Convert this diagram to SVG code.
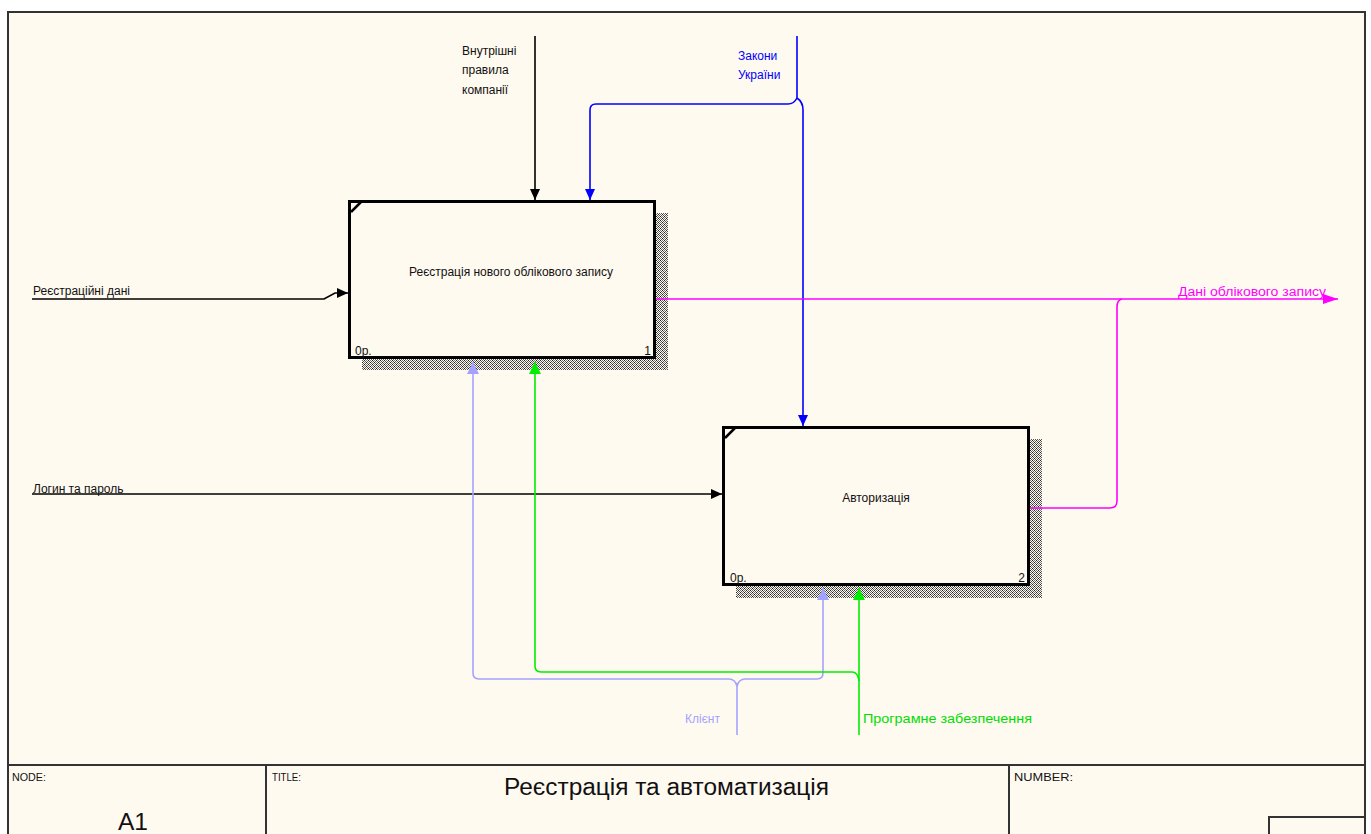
<svg xmlns="http://www.w3.org/2000/svg" width="1371" height="834" viewBox="0 0 1371 834">
  <defs>
    <pattern id="hatch" width="4" height="4" patternUnits="userSpaceOnUse">
      <rect width="4" height="4" fill="#fffaf0"/>
      <rect x="0" y="0" width="1" height="1" fill="#222"/>
      <rect x="2" y="0" width="1" height="1" fill="#777"/>
      <rect x="1" y="1" width="1" height="1" fill="#555"/>
      <rect x="3" y="1" width="1" height="1" fill="#555"/>
      <rect x="2" y="2" width="1" height="1" fill="#222"/>
      <rect x="0" y="2" width="1" height="1" fill="#777"/>
      <rect x="1" y="3" width="1" height="1" fill="#555"/>
      <rect x="3" y="3" width="1" height="1" fill="#555"/>
    </pattern>
    <marker id="ahBlack" markerUnits="userSpaceOnUse" markerWidth="12" markerHeight="10" refX="11" refY="5" orient="auto">
      <path d="M0,0 L11,5 L0,10 Z" fill="#000"/>
    </marker>
    <marker id="ahBlue" markerUnits="userSpaceOnUse" markerWidth="12" markerHeight="10" refX="11" refY="5" orient="auto">
      <path d="M0,0 L11,5 L0,10 Z" fill="#0000ff"/>
    </marker>
    <marker id="ahLav" markerUnits="userSpaceOnUse" markerWidth="13" markerHeight="12" refX="12" refY="6" orient="auto">
      <path d="M0,0 L12,6 L0,12 Z" fill="#a3a3ff"/>
    </marker>
    <marker id="ahGreen" markerUnits="userSpaceOnUse" markerWidth="13" markerHeight="12" refX="12" refY="6" orient="auto">
      <path d="M0,0 L12,6 L0,12 Z" fill="#00ee00"/>
    </marker>
    <marker id="ahMag" markerUnits="userSpaceOnUse" markerWidth="16" markerHeight="10" refX="15" refY="5" orient="auto">
      <path d="M0,0 L15,5 L0,10 Z" fill="#ff00ff"/>
    </marker>
  </defs>
  <style>
    text { font-family: "Liberation Sans", Arial, sans-serif; }
    .lbl { font-size: 12px; fill: #111; }
    .small { font-size: 11px; fill: #111; }
    .box { fill: #fffaf0; stroke: #000; stroke-width: 3; }
    .shadow { fill: url(#hatch); }
    .conn { fill: none; stroke-width: 1.6; }
    .frame { fill: none; stroke: #333; stroke-width: 2; }
  </style>

  <!-- page -->
  <rect width="1371" height="834" fill="#ffffff"/>
  <rect x="8" y="12" width="1357" height="830" fill="#fffaf0"/>
  <path class="frame" d="M8,842 V12 H1365 V842"/>

  <!-- activity 1 -->
  <g id="node-a1">
    <rect class="shadow" x="656" y="213" width="12" height="157"/>
    <rect class="shadow" x="362" y="359" width="306" height="11"/>
    <rect class="box" x="349.5" y="201.5" width="305" height="156"/>
    <path d="M351,212 L361,202" stroke="#000" stroke-width="2.5"/>
    <text class="lbl" x="511" y="276" text-anchor="middle">Реєстрація нового облікового запису</text>
    <text class="lbl" x="355" y="355">0р.</text>
    <text class="lbl" x="651" y="355" text-anchor="end">1</text>
  </g>

  <!-- activity 2 -->
  <g id="node-a2">
    <rect class="shadow" x="1030" y="439" width="12" height="159"/>
    <rect class="shadow" x="736" y="586" width="306" height="12"/>
    <rect class="box" x="723.5" y="427.5" width="305" height="157"/>
    <path d="M725,438 L735,428" stroke="#000" stroke-width="2.5"/>
    <text class="lbl" x="876" y="502" text-anchor="middle">Авторизація</text>
    <text class="lbl" x="730" y="582">0р.</text>
    <text class="lbl" x="1025" y="582" text-anchor="end">2</text>
  </g>

  <!-- connectors -->
  <g id="connectors">
    <!-- control: internal company rules -->
    <path class="conn" stroke="#000" d="M535,36 V200" marker-end="url(#ahBlack)"/>
    <!-- control: laws of Ukraine, split to both activities -->
    <path class="conn" stroke="#0000ff" d="M797,36 V98"/>
    <path class="conn" stroke="#0000ff" d="M797,98 Q794,104 788,104 H596 Q590,104 590,110 V200" marker-end="url(#ahBlue)"/>
    <path class="conn" stroke="#0000ff" d="M797,98 Q803,102 803,110 V426" marker-end="url(#ahBlue)"/>
    <!-- input: registration data -->
    <path class="conn" stroke="#000" d="M32,299 H324 L335,293 H348" marker-end="url(#ahBlack)"/>
    <!-- input: login and password -->
    <path class="conn" stroke="#000" d="M32,494 H722" marker-end="url(#ahBlack)"/>
    <!-- output: account data -->
    <path class="conn" stroke="#ff00ff" d="M656,299 H1338" marker-end="url(#ahMag)"/>
    <path class="conn" stroke="#ff00ff" d="M1030,508 H1110 Q1117,508 1117,501 V307 Q1117,300 1122,299"/>
    <!-- mechanism: client -->
    <path class="conn" stroke="#a3a3ff" d="M737,735 V686"/>
    <path class="conn" stroke="#a3a3ff" d="M737,686 Q735,679 729,679 H479 Q473,679 473,673 V362" marker-end="url(#ahLav)"/>
    <path class="conn" stroke="#a3a3ff" d="M737,686 Q739,679 745,679 H817 Q823,679 823,673 V588" marker-end="url(#ahLav)"/>
    <!-- mechanism: software -->
    <path class="conn" stroke="#00ee00" d="M859,735 V588" marker-end="url(#ahGreen)"/>
    <path class="conn" stroke="#00ee00" d="M859,681 Q858,672 852,672 H541 Q535,672 535,666 V362" marker-end="url(#ahGreen)"/>
  </g>

  <!-- arrow labels -->
  <g id="labels">
    <text class="lbl" x="462" y="55">Внутрішні</text>
    <text class="lbl" x="462" y="74">правила</text>
    <text class="lbl" x="462" y="94">компанії</text>
    <text class="lbl" x="738" y="60" style="fill:#0000ff">Закони</text>
    <text class="lbl" x="738" y="79" style="fill:#0000ff">України</text>
    <text class="lbl" x="33" y="295">Реєстраційні дані</text>
    <text class="lbl" x="33" y="493">Логин та пароль</text>
    <text class="lbl" x="1178" y="296" style="fill:#ff00ff" textLength="148" lengthAdjust="spacingAndGlyphs">Дані облікового запису</text>
    <text class="lbl" x="685" y="723" style="fill:#a3a3ff">Клієнт</text>
    <text class="lbl" x="863" y="723" style="fill:#00dd00" textLength="169" lengthAdjust="spacingAndGlyphs">Програмне забезпечення</text>
  </g>

  <!-- title block -->
  <g id="title-block">
    <path class="frame" d="M8,765 H1365 M266,765 V842 M1009,765 V842 M1269,842 V817 H1365"/>
    <text class="small" x="12" y="781" textLength="34" lengthAdjust="spacingAndGlyphs">NODE:</text>
    <text x="118" y="830" style="font-size:23px;fill:#111" textLength="30" lengthAdjust="spacingAndGlyphs">A1</text>
    <text class="small" x="272" y="781" textLength="29" lengthAdjust="spacingAndGlyphs">TITLE:</text>
    <text x="504" y="795" style="font-size:23px;fill:#111" textLength="325" lengthAdjust="spacingAndGlyphs">Реєстрація та автоматизація</text>
    <text class="small" x="1014" y="781" textLength="59" lengthAdjust="spacingAndGlyphs">NUMBER:</text>
  </g>
</svg>
